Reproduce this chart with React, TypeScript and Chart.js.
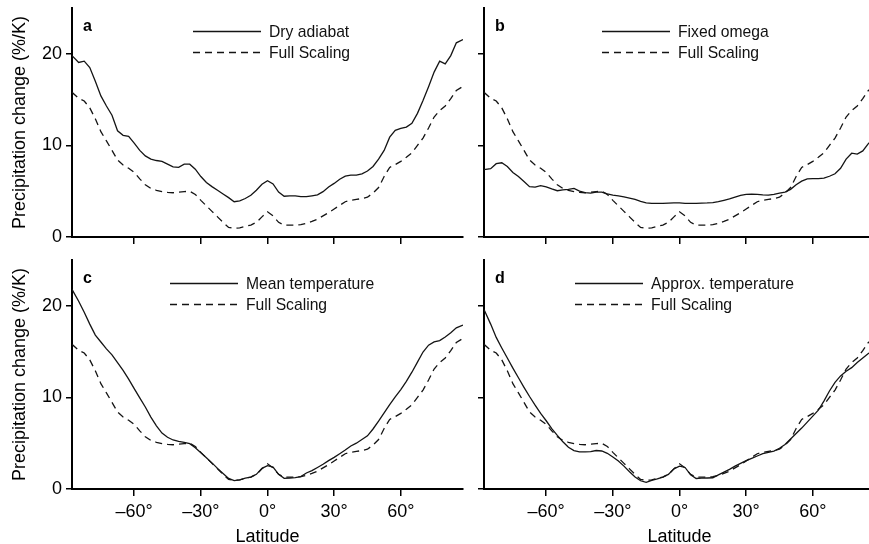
import React, { useEffect, useRef } from 'react';
import { Chart, registerables } from 'chart.js';

Chart.register(...registerables);

const FONT = '"Liberation Sans", Arial, Helvetica, sans-serif';

// Latitude grid (degrees)
const latitudes = [
  -88, -85, -82.5, -80, -77.5, -75, -72.5, -70, -67.5, -65, -62.5, -60, -57.5, -55, -52.5, -50,
  -47.5, -45, -42.5, -40, -37.5, -35, -32.5, -30, -27.5, -25, -22.5, -20, -17.5, -15, -12.5, -10,
  -7.5, -5, -2.5, 0, 2.5, 5, 7.5, 10, 12.5, 15, 17.5, 20, 22.5, 25, 27.5, 30, 32.5, 35, 37.5, 40,
  42.5, 45, 47.5, 50, 52.5, 55, 57.5, 60, 62.5, 65, 67.5, 70, 72.5, 75, 77.5, 80, 82.5, 85, 88,
];

// Precipitation change (%/K)
const fullScaling = [
  15.8, 15.15, 14.85, 14.1, 12.9, 11.5, 10.5, 9.45, 8.4, 7.85, 7.5, 7.05, 6.35, 5.7, 5.3, 5.1,
  4.95, 4.88, 4.83, 4.9, 4.95, 5.0, 4.65, 4.0, 3.4, 2.8, 2.2, 1.6, 1.05, 0.95, 1.0, 1.15,
  1.3, 1.6, 2.2, 2.75, 2.3, 1.6, 1.3, 1.3, 1.3, 1.35, 1.5, 1.7, 1.95, 2.3, 2.65, 3.05, 3.45, 3.85, 4.0, 4.1,
  4.2, 4.35, 4.8, 5.4, 6.6, 7.6, 7.9, 8.25, 8.7, 9.2, 10.0, 10.8, 11.9, 13.1, 13.8, 14.3, 15.1, 16.0, 16.45,
];

const dryAdiabat = [
  19.8, 19.05, 19.2, 18.5, 17.0, 15.4, 14.3, 13.3, 11.6, 11.1, 11.0, 10.25, 9.45, 8.85, 8.5, 8.35,
  8.25, 7.95, 7.65, 7.6, 7.95, 7.95, 7.4, 6.6, 5.95, 5.5, 5.1, 4.7, 4.3, 3.85, 3.95, 4.2,
  4.55, 5.1, 5.75, 6.15, 5.8, 4.9, 4.45, 4.5, 4.5, 4.4, 4.4, 4.5, 4.6, 4.95, 5.45, 5.85, 6.3, 6.65, 6.75, 6.75,
  6.9, 7.2, 7.7, 8.5, 9.45, 10.9, 11.65, 11.85, 12.0, 12.4, 13.5, 14.9, 16.4, 18.0, 19.2, 18.9, 19.8, 21.2, 21.55,
];

const fixedOmega = [
  7.35, 7.45, 8.0, 8.1, 7.7, 7.05, 6.6, 6.05, 5.5, 5.45, 5.6, 5.47, 5.25, 5.05, 5.15, 5.2,
  5.3, 5.0, 4.85, 4.78, 4.9, 4.9, 4.7, 4.57, 4.5, 4.37, 4.25, 4.1, 3.9, 3.72, 3.66, 3.66,
  3.66, 3.7, 3.72, 3.73, 3.68, 3.66, 3.67, 3.7, 3.72, 3.76, 3.85, 4.0, 4.15, 4.35, 4.55, 4.65, 4.67, 4.66, 4.6, 4.57,
  4.65, 4.78, 4.9, 5.2, 5.7, 6.1, 6.35, 6.37, 6.37, 6.42, 6.63, 6.9, 7.5, 8.5, 9.15, 9.05, 9.4, 10.2, 10.9,
];

const meanTemperature = [
  21.8, 20.5, 19.3, 18.0, 16.8, 16.05, 15.3, 14.65, 13.8, 12.95, 12.0, 10.95, 9.95, 8.95, 7.85, 6.9,
  6.1, 5.65, 5.35, 5.2, 5.1, 4.95, 4.5, 3.95, 3.4, 2.85, 2.25, 1.7, 1.15, 0.92, 1.0, 1.18,
  1.3, 1.6, 2.25, 2.55, 2.4, 1.6, 1.17, 1.2, 1.25, 1.35, 1.75, 2.0, 2.35, 2.7, 3.1, 3.45, 3.85, 4.25, 4.7, 5.0,
  5.4, 5.8, 6.55, 7.4, 8.3, 9.2, 10.05, 10.85, 11.75, 12.75, 13.85, 14.95, 15.7, 16.05, 16.2, 16.6, 17.05, 17.6, 17.9,
];

const approxTemperature = [
  19.6, 18.0, 16.55, 15.4, 14.3, 13.2, 12.15, 11.1, 10.1, 9.15, 8.25, 7.45, 6.6, 5.85, 5.15, 4.55,
  4.2, 4.06, 4.05, 4.08, 4.2, 4.15, 3.9, 3.5, 3.05, 2.5, 1.88, 1.3, 0.9, 0.72, 0.95, 1.1,
  1.3, 1.6, 2.2, 2.5, 2.35, 1.55, 1.15, 1.18, 1.2, 1.23, 1.55, 1.85, 2.15, 2.5, 2.8, 3.1, 3.35, 3.6, 3.85, 4.0,
  4.13, 4.45, 4.85, 5.45, 6.05, 6.65, 7.3, 7.95, 8.6, 9.6, 10.7, 11.65, 12.35, 12.85, 13.25, 13.8, 14.3, 14.8, 15.2,
];

const xTickValues = [-60, -30, 0, 30, 60];
const xTickLabels = ['–60°', '–30°', '0°', '30°', '60°'];
const yTickValues = [0, 10, 20];
const yTitle = 'Precipitation change (%/K)';
const xTitle = 'Latitude';
const fullLabel = 'Full Scaling';

type Area = { left: number; right: number; top: number; bottom: number };
type PanelSpec = {
  letter: string;
  label: string;
  values: number[];
  left: number;
  top: number;
  width: number;
  height: number;
  area: Area;
  showY: boolean;
  showX: boolean;
  legendX: number;
};

const panels: PanelSpec[] = [
  { letter: 'a', label: 'Dry adiabat', values: dryAdiabat, left: 0, top: 0, width: 470, height: 250,
    area: { left: 72, right: 463, top: 8, bottom: 237 }, showY: true, showX: false, legendX: 121 },
  { letter: 'b', label: 'Fixed omega', values: fixedOmega, left: 470, top: 0, width: 420, height: 250,
    area: { left: 14, right: 405, top: 8, bottom: 237 }, showY: false, showX: false, legendX: 118 },
  { letter: 'c', label: 'Mean temperature', values: meanTemperature, left: 0, top: 250, width: 470, height: 300,
    area: { left: 72, right: 463, top: 10, bottom: 239 }, showY: true, showX: true, legendX: 98 },
  { letter: 'd', label: 'Approx. temperature', values: approxTemperature, left: 470, top: 250, width: 420, height: 300,
    area: { left: 14, right: 405, top: 10, bottom: 239 }, showY: false, showX: true, legendX: 91 },
];

const panelDecor = {
  id: 'panelDecor',
  afterDraw(chart: any, _args: any, opts: any) {
    const { ctx, chartArea } = chart;
    ctx.save();
    ctx.fillStyle = '#000';
    ctx.textAlign = 'left';
    ctx.textBaseline = 'alphabetic';
    ctx.font = `bold 16px ${FONT}`;
    ctx.fillText(opts.letter, chartArea.left + 11, chartArea.top + 22.5);
    const rows = [23.5, 44.5];
    chart.data.datasets.forEach((ds: any, i: number) => {
      const y = chartArea.top + rows[i];
      const x0 = chartArea.left + opts.legendX;
      ctx.beginPath();
      ctx.setLineDash(ds.borderDash || []);
      ctx.lineWidth = ds.borderWidth;
      ctx.strokeStyle = ds.borderColor;
      ctx.moveTo(x0, y);
      ctx.lineTo(x0 + 68, y);
      ctx.stroke();
      ctx.setLineDash([]);
      ctx.font = `15.7px ${FONT}`;
      ctx.fillStyle = '#111';
      ctx.fillText(ds.label, x0 + 76, y + 5.6);
    });
    ctx.restore();
  },
};

function Panel({ spec }: { spec: PanelSpec }) {
  const ref = useRef<HTMLCanvasElement>(null);
  useEffect(() => {
    const canvas = ref.current;
    if (!canvas) return;
    const toPts = (vals: number[]) => latitudes.map((x, i) => ({ x, y: vals[i] }));
    const chart = new Chart(canvas, {
      type: 'line',
      data: {
        datasets: [
          { label: spec.label, data: toPts(spec.values), borderColor: '#141414', borderWidth: 1.3,
            pointRadius: 0, fill: false, tension: 0 },
          { label: fullLabel, data: toPts(fullScaling), borderColor: '#141414', borderWidth: 1.3,
            borderDash: [7, 5], pointRadius: 0, fill: false, tension: 0 },
        ],
      },
      options: {
        responsive: false,
        animation: false,
        events: [],
        layout: { padding: { left: 0, top: spec.area.top, right: spec.width - spec.area.right, bottom: 0 } },
        plugins: {
          legend: { display: false },
          tooltip: { enabled: false },
          panelDecor: { letter: spec.letter, legendX: spec.legendX },
        } as any,
        scales: {
          x: {
            type: 'linear',
            min: -88,
            max: 88,
            afterBuildTicks: (s: any) => { s.ticks = xTickValues.map((v) => ({ value: v })); },
            afterFit: (s: any) => {
              s.height = spec.height - spec.area.bottom;
              s.paddingLeft = 0; s.paddingRight = 0; s.paddingTop = 0; s.paddingBottom = 0;
            },
            ticks: {
              display: spec.showX,
              callback: (_v: any, i: number) => xTickLabels[i],
              font: { family: FONT, size: 18 },
              color: '#000',
              padding: 5,
              maxRotation: 0,
              autoSkip: false,
            },
            grid: { drawOnChartArea: false, drawTicks: true, tickLength: 7, color: '#000', lineWidth: 1.5 },
            border: { display: true, color: '#000', width: 2 },
            title: { display: spec.showX, text: xTitle, font: { family: FONT, size: 18 }, color: '#000',
              padding: { top: 0, bottom: 2 } },
          },
          y: {
            type: 'linear',
            min: 0,
            max: 25,
            afterBuildTicks: (s: any) => { s.ticks = yTickValues.map((v) => ({ value: v })); },
            afterFit: (s: any) => {
              s.width = spec.area.left;
              s.paddingLeft = 0; s.paddingRight = 0; s.paddingTop = 0; s.paddingBottom = 0;
            },
            ticks: {
              display: spec.showY,
              callback: (v: any) => String(v),
              font: { family: FONT, size: 18 },
              color: '#000',
              padding: 4,
            },
            grid: { drawOnChartArea: false, drawTicks: true, tickLength: 6, color: '#000', lineWidth: 1.5 },
            border: { display: true, color: '#000', width: 2 },
            title: { display: spec.showY, text: yTitle, font: { family: FONT, size: 18 }, color: '#000',
              padding: { top: 9, bottom: 0 } },
          },
        },
      } as any,
      plugins: [panelDecor as any],
    });
    return () => chart.destroy();
  }, [spec]);
  return (
    <canvas
      ref={ref}
      width={spec.width}
      height={spec.height}
      style={{ position: 'absolute', left: spec.left, top: spec.top, width: spec.width, height: spec.height }}
    />
  );
}

export default function App() {
  return (
    <div style={{ position: 'absolute', left: 0, top: 0, width: 869, height: 544, overflow: 'hidden', background: '#fff' }}>
      {panels.map((p) => (
        <Panel key={p.letter} spec={p} />
      ))}
    </div>
  );
}
